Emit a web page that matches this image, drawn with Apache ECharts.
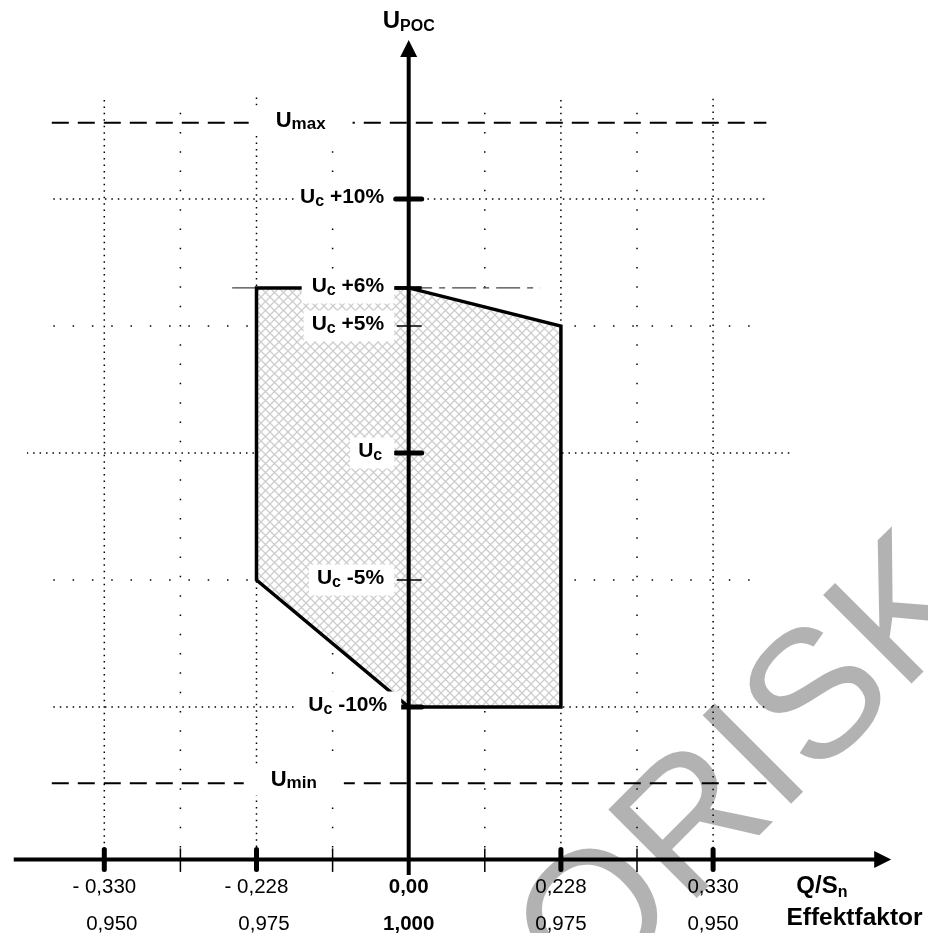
<!DOCTYPE html>
<html><head><meta charset="utf-8">
<script src="https://cdn.jsdelivr.net/npm/echarts@6/dist/echarts.min.js"></script>
<style>html,body{margin:0;padding:0;background:#fff}#c{width:928px;height:933px}</style>
</head><body><div id="c"></div>
<script>
// ---- DATA (schematic units: x = half-steps between labelled ticks, y = % of Uc) ----
const xTicksMajor = [-4, -2, 2, 4];
const xTicksMinor = [-3, -1, 1, 3];
const xLabelPos = [-4, -2, 0, 2, 4];
const xLabelsQ = ['- 0,330', '- 0,228', '0,00', '0,228', '0,330'];
const xLabelsPF = ['0,950', '0,975', '1,000', '0,975', '0,950'];
const yLabelPos = [10, 6.5, 5, 0, -5, -10];
const yLabelTexts = ['+10%', '+6%', '+5%', '', '-5%', '-10%'];
const yTickKind = ['thick', 'medium', 'thin', 'thick', 'thin', 'thick'];
const uMaxLevel = 13, uMinLevel = -13;
const uMaxX = -1.42, uMinX = -1.51;
const polyX = [-2, 0, 2, 2, 0, -2];
const polyY = [6.5, 6.5, 5, -10, -10, -5];
const hLevels = [10, 5, 0, -5, -10];
const hFrom = [-4.67, -4.67, -5.02, -4.67, -4.67];
const hTo = [4.68, 4.48, 5.02, 4.48, 4.68];
const hKind = ['dense', 'sparse', 'dense', 'sparse', 'dense'];
const limFrom = -4.69, limTo = 4.70;
const dashDotLevel = 6.5, dashDotFrom = -2.32, dashDotTo = 1.73;
const vPos = [-4, -3, -2, -1, 1, 2, 3, 4];
const vTop = [13.9, 13.4, 14.0, 13.4, 13.4, 13.9, 13.4, 13.95];
const vKind = ['dense', 'sparse', 'dense', 'sparse', 'sparse', 'dense', 'sparse', 'dense'];
const xAxisFrom = -5.19, xAxisTip = 6.34, yAxisTip = 16.26, axisLevel = -16;

// ---- STYLE ----
const FF = '"Liberation Sans", Arial, Helvetica, sans-serif';
const dotStyle = {
  dense: { color: '#000', width: 1.5, type: [1.5, 4.95], cap: 'butt' },
  sparse: { color: '#000', width: 1.5, type: [1.5, 17.8], cap: 'butt' }
};

const T = 9;
const pat = document.createElement('canvas');
pat.width = T; pat.height = T;
(function () {
  const g = pat.getContext('2d');
  g.fillStyle = '#fff'; g.fillRect(0, 0, T, T);
  g.strokeStyle = '#cdcdcd'; g.lineWidth = 1.25;
  for (const k of [-T, 0, T]) {
    g.beginPath(); g.moveTo(k, 0); g.lineTo(k + T, T); g.moveTo(k + T, 0); g.lineTo(k, T); g.stroke();
  }
})();

const series = [];
function seg(data, ls, z) {
  series.push({ type: 'line', data: data, symbol: 'none', silent: true, clip: false, z: z || 1,
    lineStyle: ls, animation: false });
}
hLevels.forEach((v, i) => seg([[hFrom[i], v], [hTo[i], v]], dotStyle[hKind[i]]));
vPos.forEach((u, i) => seg([[u, vTop[i]], [u, axisLevel]], dotStyle[vKind[i]]));
seg([[limFrom, uMaxLevel], [limTo, uMaxLevel]], { color: '#000', width: 2, type: [17, 9] });
seg([[limFrom, uMinLevel], [limTo, uMinLevel]], { color: '#000', width: 2, type: [17, 9] });
seg([[dashDotFrom, dashDotLevel], [dashDotTo, dashDotLevel]], { color: '#444', width: 1.2, type: [24, 7, 6, 7] });

// polygon (operating area)
series.push({
  type: 'custom', z: 2, silent: true, animation: false, data: [[0, 0]],
  renderItem: function (params, api) {
    const pts = polyX.map((x, i) => api.coord([x, polyY[i]]));
    return { type: 'polygon', shape: { points: pts },
      style: { fill: { image: pat, repeat: 'repeat' }, stroke: '#000', lineWidth: 3.5, lineJoin: 'miter' } };
  }
});

// axes with arrows + ticks
series.push({
  type: 'custom', z: 3, silent: true, animation: false, data: [[0, 0]],
  renderItem: function (params, api) {
    const o = api.coord([0, axisLevel]);
    const xl = api.coord([xAxisFrom, axisLevel]);
    const xr = api.coord([xAxisTip, axisLevel]);
    const yt = api.coord([0, yAxisTip]);
    const ch = [];
    const L = (x1, y1, x2, y2, w, cap) => ch.push({ type: 'line', shape: { x1, y1, x2, y2 },
      style: { stroke: '#000', lineWidth: w, lineCap: cap || 'butt' } });
    L(xl[0], o[1], xr[0] - 15, o[1], 4);
    ch.push({ type: 'polygon', shape: { points: [[xr[0], o[1]], [xr[0] - 17, o[1] - 8.5], [xr[0] - 17, o[1] + 8.5]] }, style: { fill: '#000' } });
    L(o[0], o[1] + 15.5, o[0], yt[1] + 15, 4);
    ch.push({ type: 'polygon', shape: { points: [[o[0], yt[1]], [o[0] - 8.5, yt[1] + 17], [o[0] + 8.5, yt[1] + 17]] }, style: { fill: '#000' } });
    xTicksMajor.forEach(u => { const p = api.coord([u, axisLevel]); L(p[0], p[1] - 10, p[0], p[1] + 10, 5, 'round'); });
    xTicksMinor.forEach(u => { const p = api.coord([u, axisLevel]); L(p[0], p[1] - 11, p[0], p[1] + 12.5, 1.5); });
    yLabelPos.forEach((v, i) => {
      const p = api.coord([0, v]); const k = yTickKind[i];
      if (k === 'thick') L(p[0] - 13, p[1], p[0] + 13, p[1], 5, 'round');
      else if (k === 'medium') L(p[0] - 14, p[1], p[0] + 13, p[1], 3.5);
      else L(p[0] - 12, p[1], p[0] + 13, p[1], 1.5);
    });
    return { type: 'group', children: ch };
  }
});

// labels
const yBox = [
  { distance: 17, padding: [2, 7, 5, 5] },
  { distance: 14, padding: [2, 10, 5, 10] },
  { distance: 14, padding: [2, 10, 5, 8] },
  { distance: 14, padding: [2, 12, 5, 8] },
  { distance: 14, padding: [2, 10, 5, 8] },
  { distance: 7, padding: [2, 14, 5, 13] }
];
const B = { fontFamily: FF, fontWeight: 'bold', color: '#000' };
const subRich = {
  u: Object.assign({ fontSize: 21, lineHeight: 24 }, B),
  s: Object.assign({ fontSize: 16, lineHeight: 15, verticalAlign: 'bottom' }, B),
  t: Object.assign({ fontSize: 21, lineHeight: 24 }, B),
  U: Object.assign({ fontSize: 22, lineHeight: 24 }, B),
  S: Object.assign({ fontSize: 17, lineHeight: 16, verticalAlign: 'bottom' }, B),
  P: Object.assign({ fontSize: 24, lineHeight: 28 }, B),
  p: Object.assign({ fontSize: 16, lineHeight: 17, verticalAlign: 'bottom' }, B),
  Q: Object.assign({ fontSize: 24, lineHeight: 28 }, B),
  E: Object.assign({ fontSize: 24.5, lineHeight: 28 }, B),
  n: Object.assign({ fontSize: 16, lineHeight: 17, verticalAlign: 'bottom' }, B)
};
const labelData = [];
yLabelPos.forEach((v, i) => labelData.push({ value: [0, v], label: Object.assign({
  position: 'left', backgroundColor: '#fff',
  formatter: '{u|U}{s|c}' + (yLabelTexts[i] ? '{t| ' + yLabelTexts[i] + '}' : '') }, yBox[i]) }));
labelData.push({ value: [uMaxX, uMaxLevel], label: { position: 'inside', backgroundColor: '#fff', padding: [3, 27, 3, 27], offset: [0, -2], formatter: '{U|U}{S|max}' } });
labelData.push({ value: [uMinX, uMinLevel], label: { position: 'inside', backgroundColor: '#fff', padding: [3, 27, 3, 27], offset: [0, -3], formatter: '{U|U}{S|min}' } });
labelData.push({ value: [0, yAxisTip], label: { position: 'top', distance: 4.5, formatter: '{P|U}{p|POC}' } });
labelData.push({ value: [5.1, axisLevel], label: { position: [0, 27.5], align: 'left', verticalAlign: 'middle', formatter: '{Q|Q/S}{n|n}' } });
labelData.push({ value: [4.97, axisLevel], label: { position: [0, 59.5], align: 'left', verticalAlign: 'middle', formatter: '{E|Effektfaktor}' } });
xLabelPos.forEach((u, i) => {
  const w = u === 0 ? 'bold' : 'normal';
  labelData.push({ value: [u, axisLevel], label: { position: 'bottom', distance: 16, fontFamily: FF, fontSize: 20.5, lineHeight: 22, fontWeight: w, color: '#000', formatter: xLabelsQ[i] } });
  labelData.push({ value: [u, axisLevel], label: { position: 'bottom', distance: 53, fontFamily: FF, fontSize: 20.5, lineHeight: 22, fontWeight: w, color: '#000', offset: [u < 0 ? 7.5 : 0, 0], formatter: xLabelsPF[i] } });
});
series.push({
  type: 'scatter', z: 5, silent: true, animation: false, clip: false, symbolSize: 1,
  itemStyle: { color: 'rgba(0,0,0,0)', opacity: 1 },
  emphasis: { disabled: true },
  label: { show: true, rich: subRich, color: '#000', opacity: 1 },
  data: labelData
});

const chart = echarts.init(document.getElementById('c'), null, { renderer: 'canvas' });
chart.setOption({
  animation: false,
  backgroundColor: '#fff',
  grid: { left: 28.2, right: 62.7, top: 46.6, bottom: 73.6, show: false },
  xAxis: { type: 'value', min: -5, max: 6, show: false },
  yAxis: { type: 'value', min: -16, max: 16, show: false },
  graphic: [{
    type: 'text', x: 751, y: 773, rotation: Math.PI / 4, z: 100, silent: true,
    style: { text: 'ORISK', fill: 'rgba(0,0,0,0.3)', fontSize: 182, fontFamily: FF,
      align: 'center', verticalAlign: 'middle', textAlign: 'center', textVerticalAlign: 'middle' }
  }],
  series: series
});
</script></body></html>
